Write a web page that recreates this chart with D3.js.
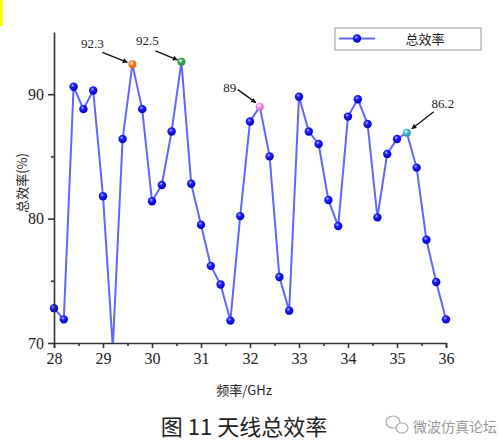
<!DOCTYPE html>
<html>
<head>
<meta charset="utf-8">
<script src="https://cdn.jsdelivr.net/npm/d3@7"></script>
<style>
  body { margin: 0; background: #fff; }
  svg { display: block; }
</style>
</head>
<body>
<svg id="chart" width="500" height="447"></svg>
<script>
// frequency (GHz) and total efficiency (%)
const freqs = [28.0, 28.2, 28.4, 28.6, 28.8, 29.0, 29.2, 29.4, 29.6, 29.8,
  30.0, 30.2, 30.4, 30.6, 30.8, 31.0, 31.2, 31.4, 31.6, 31.8,
  32.0, 32.2, 32.4, 32.6, 32.8, 33.0, 33.2, 33.4, 33.6, 33.8,
  34.0, 34.2, 34.4, 34.6, 34.8, 35.0, 35.2, 35.4, 35.6, 35.8, 36.0]
const efficiency = [72.8, 71.9, 90.6, 88.8, 90.3, 81.8, 69.6, 86.4, 92.4, 88.8,
  81.4, 82.7, 87.0, 92.6, 82.8, 79.5, 76.2, 74.7, 71.8, 80.2,
  87.8, 89.0, 85.0, 75.3, 72.6, 89.8, 87.0, 86.0, 81.5, 79.4,
  88.2, 89.6, 87.6, 80.1, 85.2, 86.4, 86.9, 84.1, 78.3, 74.9, 71.9]
const xTicks = [28, 29, 30, 31, 32, 33, 34, 35, 36]
const yTicks = [70, 80, 90]

// marked peaks
const markIdx = [8, 13, 21, 36]
const markLabels = ["92.3", "92.5", "89", "86.2"]
const markColors = ["#ff7f1e", "#2fa84a", "#ff8cf0", "#3cb8cc"]
// label offset and arrow start/end, relative to the point
const markOffsets = [
  { tx: -40, ty: -16, ax: -30, ay: -12, bx: -5, by: -2 },
  { tx: -34, ty: -17, ax: -26, ay: -11, bx: -4, by: -2 },
  { tx: -30, ty: -15, ax: -22, ay: -17, bx: -4, by: -4 },
  { tx: 36, ty: -25, ax: 27, ay: -21, bx: 5, by: -4 }
]

const svg = d3.select("#chart")
const margin = { left: 54, right: 54, top: 32, bottom: 104 }
const W = 500, H = 447

const x = d3.scaleLinear().domain([28, 36]).range([margin.left, W - margin.right])
const y = d3.scaleLinear().domain([70, 95]).range([H - margin.bottom, margin.top])

// yellow strip top-left
svg.append("rect").attr("x", 0).attr("y", 0).attr("width", 3).attr("height", 26).attr("fill", "#ffff00")

const defs = svg.append("defs")
defs.append("clipPath").attr("id", "plotclip").append("rect")
  .attr("x", 0).attr("y", 0).attr("width", W).attr("height", y(70))

const grad = defs.append("radialGradient").attr("id", "ball").attr("cx", "40%").attr("cy", "35%").attr("r", "65%")
grad.append("stop").attr("offset", "0%").attr("stop-color", "#b8b8ff")
grad.append("stop").attr("offset", "35%").attr("stop-color", "#2020ff")
grad.append("stop").attr("offset", "100%").attr("stop-color", "#0000c8")

markColors.forEach((c, i) => {
  const g = defs.append("radialGradient").attr("id", "mk" + i).attr("cx", "40%").attr("cy", "35%").attr("r", "65%")
  g.append("stop").attr("offset", "0%").attr("stop-color", "#ffffff")
  g.append("stop").attr("offset", "45%").attr("stop-color", c)
  g.append("stop").attr("offset", "100%").attr("stop-color", d3.color(c).darker(0.6))
})

defs.append("marker").attr("id", "arrow").attr("viewBox", "0 0 10 10")
  .attr("refX", 9).attr("refY", 5).attr("markerWidth", 7).attr("markerHeight", 5)
  .attr("markerUnits", "userSpaceOnUse").attr("orient", "auto")
  .append("path").attr("d", "M0,0L10,5L0,10z").attr("fill", "#111")

// line + points, clipped at the x axis
const plot = svg.append("g").attr("clip-path", "url(#plotclip)")
plot.append("path")
  .datum(freqs.map((f, i) => [f, efficiency[i]]))
  .attr("fill", "none").attr("stroke", "#6464ff").attr("stroke-width", 2)
  .attr("d", d3.line().x(d => x(d[0])).y(d => y(d[1])))

plot.append("g").selectAll("circle")
  .data(freqs.map((f, i) => ({ f, v: efficiency[i], i })).filter(d => !markIdx.includes(d.i)))
  .join("circle")
  .attr("cx", d => x(d.f)).attr("cy", d => y(d.v)).attr("r", 4.2)
  .attr("fill", "url(#ball)")

// axes
const xAxis = svg.append("g").attr("transform", `translate(0,${y(70)})`)
  .call(d3.axisBottom(x).tickValues(xTicks).tickFormat(d3.format("d")).tickSize(5).tickPadding(5))
const xMinor = svg.append("g").attr("transform", `translate(0,${y(70)})`)
  .call(d3.axisBottom(x).tickValues(d3.range(28.5, 36, 1)).tickFormat("").tickSize(3))
const yAxis = svg.append("g").attr("transform", `translate(${x(28)},0)`)
  .call(d3.axisLeft(y).tickValues(yTicks).tickSize(6).tickPadding(4).tickSizeOuter(0))
const yMinor = svg.append("g").attr("transform", `translate(${x(28)},0)`)
  .call(d3.axisLeft(y).tickValues([75, 85]).tickFormat("").tickSize(3).tickSizeOuter(0))
xMinor.select(".domain").remove()
yMinor.select(".domain").remove()

svg.selectAll(".tick line, .domain").attr("stroke", "#333").attr("stroke-width", 1.6)
svg.selectAll(".tick text").attr("font-family", "Liberation Serif").attr("font-size", 16).attr("fill", "#222")

// marked points with arrows
markIdx.forEach((idx, k) => {
  const px = x(freqs[idx]), py = y(efficiency[idx]), o = markOffsets[k]
  svg.append("circle").attr("cx", px).attr("cy", py).attr("r", 4).attr("fill", `url(#mk${k})`)
  svg.append("line")
    .attr("x1", px + o.ax).attr("y1", py + o.ay).attr("x2", px + o.bx).attr("y2", py + o.by)
    .attr("stroke", "#111").attr("stroke-width", 1.3).attr("marker-end", "url(#arrow)")
  svg.append("text").attr("x", px + o.tx).attr("y", py + o.ty)
    .attr("text-anchor", "middle").attr("font-family", "Liberation Serif").attr("font-size", 13)
    .attr("fill", "#222").text(markLabels[k])
})

// legend
const lg = svg.append("g")
lg.append("rect").attr("x", 335).attr("y", 28).attr("width", 146).attr("height", 22)
  .attr("fill", "#fff").attr("stroke", "#999").attr("stroke-width", 1)
lg.append("line").attr("x1", 339).attr("x2", 375).attr("y1", 38.5).attr("y2", 38.5)
  .attr("stroke", "#6464ff").attr("stroke-width", 2)
lg.append("circle").attr("cx", 357).attr("cy", 38.5).attr("r", 4.2).attr("fill", "url(#ball)")
lg.append("text").attr("x", 425).attr("y", 44).attr("text-anchor", "middle")
  .attr("font-family", "Noto Sans CJK SC").attr("font-size", 13).attr("fill", "#222").text("总效率")

// axis titles
svg.append("text").attr("transform", "translate(27,183) rotate(-90)").attr("text-anchor", "middle")
  .attr("font-family", "Noto Sans CJK SC").attr("font-size", 13).attr("fill", "#222").text("总效率(%)")
svg.append("text").attr("x", 244).attr("y", 395).attr("text-anchor", "middle")
  .attr("font-family", "Noto Sans CJK SC").attr("font-size", 13).attr("fill", "#222").text("频率/GHz")

// caption
svg.append("text").attr("x", 244).attr("y", 435).attr("text-anchor", "middle")
  .attr("font-family", "Noto Sans CJK SC").attr("font-size", 22).attr("fill", "#222").text("图 11 天线总效率")

// watermark
const wm = svg.append("g").attr("fill", "none").attr("stroke", "#aaa").attr("stroke-width", 1.2)
wm.append("ellipse").attr("cx", 393).attr("cy", 422).attr("rx", 7).attr("ry", 6)
wm.append("ellipse").attr("cx", 402).attr("cy", 428).attr("rx", 6).attr("ry", 5).attr("fill", "#fff")
svg.append("text").attr("x", 413).attr("y", 432).attr("font-family", "Noto Sans CJK SC")
  .attr("font-size", 14).attr("fill", "#999").text("微波仿真论坛")
</script>
</body>
</html>
